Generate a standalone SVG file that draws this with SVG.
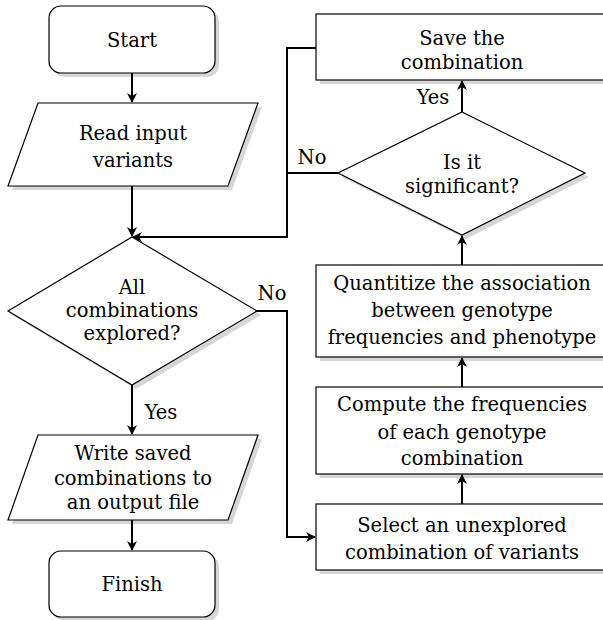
<svg xmlns="http://www.w3.org/2000/svg" width="603" height="620" viewBox="0 0 603 620">
<style>
.sh{fill:#d6d6d6;stroke:none}
.nd{fill:#fff;stroke:#000;stroke-width:1.2}
text{font-family:"DejaVu Serif","Liberation Serif",serif;font-size:19.5px;text-anchor:middle;fill:#000}
.cn{fill:none;stroke:#000;stroke-width:2}
</style>
<defs>
<marker id="ar" viewBox="-10 -6 12 12" refX="0" refY="0" markerWidth="12" markerHeight="12" markerUnits="userSpaceOnUse" orient="auto">
<path d="M1,0 L-9,-5 L-6,0 L-9,5 Z" fill="#000"/>
</marker>
</defs>
<rect width="603" height="620" fill="#fff"/>
<g id="start">
<rect class="sh" x="53" y="10" width="166" height="67" rx="12"/>
<rect class="nd" x="49" y="6" width="166" height="67" rx="12"/>
<text x="132" y="47">Start</text>
</g>
<g id="read">
<polygon class="sh" points="42,107 262,107 232,190 12,190"/>
<polygon class="nd" points="38,103 258,103 228,186 8,186"/>
<text x="133" y="140">Read input</text>
<text x="133" y="167">variants</text>
</g>
<g id="all">
<polygon class="sh" points="136,241 261,315 136,389 12,315"/>
<polygon class="nd" points="132,237 257,311 132,385 8,311"/>
<text x="132" y="294">All</text>
<text x="132" y="317">combinations</text>
<text x="132" y="340">explored?</text>
</g>
<g id="write">
<polygon class="sh" points="42,439 262,439 232,524 12,524"/>
<polygon class="nd" points="38,435 258,435 228,520 8,520"/>
<text x="133" y="460">Write saved</text>
<text x="133" y="485">combinations to</text>
<text x="133" y="509">an output file</text>
</g>
<g id="finish">
<rect class="sh" x="53" y="555" width="166" height="66" rx="12"/>
<rect class="nd" x="49" y="551" width="166" height="66" rx="12"/>
<text x="132" y="591">Finish</text>
</g>
<g id="save">
<rect class="sh" x="320" y="18" width="292" height="66"/>
<rect class="nd" x="316" y="14" width="292" height="66"/>
<text x="462" y="45">Save the</text>
<text x="462" y="69">combination</text>
</g>
<g id="sig">
<polygon class="sh" points="466,116 589,177 466,239 342,177"/>
<polygon class="nd" points="462,112 585,173 462,235 338,173"/>
<text x="462" y="169">Is it</text>
<text x="462" y="193">significant?</text>
</g>
<g id="quant">
<rect class="sh" x="320" y="269" width="292" height="92"/>
<rect class="nd" x="316" y="265" width="292" height="92"/>
<text x="462" y="290">Quantitize the association</text>
<text x="462" y="317">between genotype</text>
<text x="462" y="344">frequencies and phenotype</text>
</g>
<g id="compute">
<rect class="sh" x="320" y="391" width="292" height="87"/>
<rect class="nd" x="316" y="387" width="292" height="87"/>
<text x="462" y="411">Compute the frequencies</text>
<text x="462" y="439">of each genotype</text>
<text x="462" y="465">combination</text>
</g>
<g id="select">
<rect class="sh" x="320" y="508" width="292" height="66"/>
<rect class="nd" x="316" y="504" width="292" height="66"/>
<text x="462" y="532">Select an unexplored</text>
<text x="462" y="559">combination of variants</text>
</g>
<g id="connectors">
<path class="cn" d="M132,73 V102" marker-end="url(#ar)"/>
<path class="cn" d="M132,186 V236" marker-end="url(#ar)"/>
<path class="cn" d="M316,48 H287 V237 H133" marker-end="url(#ar)"/>
<path class="cn" d="M338,173 H287"/>
<path class="cn" d="M132,385 V434" marker-end="url(#ar)"/>
<path class="cn" d="M132,520 V550" marker-end="url(#ar)"/>
<path class="cn" d="M257,311 H287 V537 H315" marker-end="url(#ar)"/>
<path class="cn" d="M462,504 V475" marker-end="url(#ar)"/>
<path class="cn" d="M462,387 V358" marker-end="url(#ar)"/>
<path class="cn" d="M462,265 V236" marker-end="url(#ar)"/>
<path class="cn" d="M462,112 V81" marker-end="url(#ar)"/>
<text x="161" y="419">Yes</text>
<text x="272" y="300">No</text>
<text x="312" y="164">No</text>
<text x="433" y="104">Yes</text>
</g>
</svg>
